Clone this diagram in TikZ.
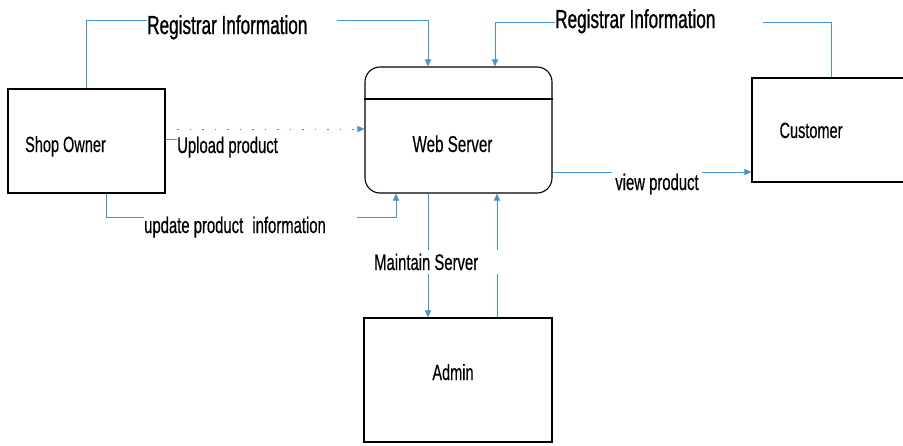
\documentclass[tikz,border=0pt]{standalone}
\usepackage{fontspec}
\setmainfont{Liberation Sans}[FakeStretch=0.66,FakeBold=0.3]
\newfontfamily\headfont{Liberation Sans}[FakeStretch=0.66,FakeBold=0.9]
\newfontfamily\flowfont{Liberation Sans}[FakeStretch=0.66,FakeBold=0.5]
\usetikzlibrary{arrows.meta}
\definecolor{flowblue}{RGB}{72,144,212}
\tikzset{
  box/.style={draw=black, line width=1.1pt, rectangle, inner sep=0pt},
  flow/.style={draw=flowblue, line width=1pt, -{Triangle[length=7pt,width=6pt]}},
  flowline/.style={draw=flowblue, line width=1pt},
  lbl/.style={fill=white, inner xsep=3pt, inner ysep=2pt, anchor=base, font=\flowfont\fontsize{22.5}{24}\selectfont},
  biglbl/.style={fill=white, inner xsep=0pt, inner ysep=2pt, anchor=base west, align=flush left, font=\headfont\fontsize{26}{28}\selectfont},
  boxtxt/.style={anchor=base, inner sep=0pt, font=\fontsize{22}{24}\selectfont}
}
\begin{document}
\begin{tikzpicture}[x=1pt,y=-1pt]
\useasboundingbox (0,0) rectangle (903,445);

% entities and the web server process
\node[box, minimum width=157pt, minimum height=104pt] (shop) at (86.5,141) {};
\node[boxtxt] (shoptxt) at (65.5,152) {Shop Owner};
\node[box, rounded corners=15pt, minimum width=187pt, minimum height=126pt] (web) at (458.5,130) {};
\draw[line width=1.1pt] (web.west |- 0,99) -- (web.east |- 0,99);
\node[boxtxt, font=\fontsize{23}{25}\selectfont] (webtxt) at (452.5,152) {Web Server};
\node[box, minimum width=160pt, minimum height=104pt] (cust) at (832,130) {};
\node[boxtxt] (custtxt) at (811,138) {Customer};
\node[box, minimum width=188pt, minimum height=124pt] (admin) at (458,380) {};
\node[boxtxt] (admintxt) at (453,380) {Admin};

% data flows
\draw[flow] (shop.north -| 86,0) |- (428,20) -- (web.north -| 428,0);
\draw[flow] (cust.north -| 831,0) |- (495,22) -- (web.north -| 495,0);
\draw[flow] (shop.south -| 106,0) |- (396,217) -- (web.south -| 396,0);
\draw[flow] (web.east |- 0,172) -- (cust.west |- 0,172);
\draw[flow] (web.south -| 428,0) -- (admin.north -| 428,0);
\draw[flow] (admin.north -| 497,0) -- (web.south -| 497,0);

% flow labels
\node[biglbl, text width=190pt] (reg1) at (147,34) {Registrar Information};
\node[biglbl, text width=208pt] (reg2) at (555,28) {Registrar Information};
\node[lbl, anchor=base west, inner xsep=0pt] (upl) at (177,153) {Upload product};
\node[lbl, anchor=base west, inner xsep=0pt, text width=213pt, align=flush left] (upd) at (144,233) {update product\hspace{5pt} information};
\node[lbl] (view) at (657,190) {view product};
\node[lbl, anchor=base west, inner xsep=0pt, inner ysep=4pt, text width=132pt, align=flush left] (maint) at (374,270) {Maintain Server};

% upload flow: short stub, then a faint dashed run into the server
\draw[flowline] (shop.east |- 0,139) -- (upl.west |- 0,139);
\draw[flow, dash pattern=on 1.5pt off 11pt] (upl.west |- 0,129) -- (web.west |- 0,129);
\end{tikzpicture}
\end{document}
